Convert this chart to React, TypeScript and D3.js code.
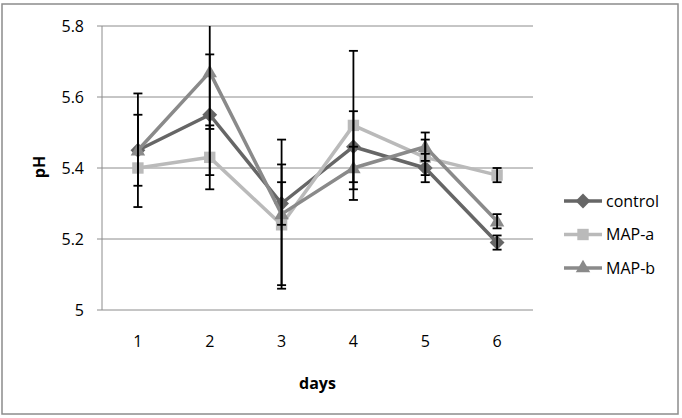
import React, { useEffect, useRef } from "react";
import * as d3 from "d3";

const days = ["1", "2", "3", "4", "5", "6"];
const yTicks = [5, 5.2, 5.4, 5.6, 5.8];

const controlValues = [5.45, 5.55, 5.30, 5.46, 5.40, 5.19];
const controlErr = [0.10, 0.17, 0.06, 0.10, 0.04, 0.02];
const mapAValues = [5.40, 5.43, 5.24, 5.52, 5.43, 5.38];
const mapAErr = [0.0, 0.09, 0.17, 0.21, 0.05, 0.02];
const mapBValues = [5.45, 5.67, 5.27, 5.40, 5.46, 5.25];
const mapBErr = [0.16, 0.16, 0.21, 0.06, 0.04, 0.02];

const seriesNames = ["control", "MAP-a", "MAP-b"];

export default function App() {
  const svgRef = useRef<SVGSVGElement | null>(null);

  useEffect(() => {
    document.body.style.margin = "0";
    if (!svgRef.current) return;
    const width = 682, height = 418;
    const left = 102, right = 533, top = 26, bottom = 310;
    const font = "'Open Sans', sans-serif";

    const series = [
      { name: seriesNames[0], values: controlValues, err: controlErr, color: "#666666", shape: "diamond" },
      { name: seriesNames[1], values: mapAValues, err: mapAErr, color: "#bababa", shape: "square" },
      { name: seriesNames[2], values: mapBValues, err: mapBErr, color: "#8a8a8a", shape: "triangle" },
    ];

    const x = d3.scaleBand().domain(days).range([left, right]);
    const y = d3.scaleLinear().domain([5, 5.8]).range([bottom, top]);
    const cx = (d: string) => (x(d) as number) + x.bandwidth() / 2;

    const svg = d3.select(svgRef.current);
    svg.selectAll("*").remove();

    svg.append("rect")
      .attr("x", 2).attr("y", 4).attr("width", width - 6).attr("height", height - 8)
      .attr("fill", "white").attr("stroke", "#8c8c8c").attr("stroke-width", 1.5);

    svg.append("defs").append("clipPath").attr("id", "plotclip")
      .append("rect").attr("x", left - 10).attr("y", top).attr("width", right - left + 20).attr("height", bottom - top + 20);

    // grid lines
    svg.append("g").selectAll("line")
      .data(yTicks)
      .enter()
      .append("line")
      .attr("x1", left - 5).attr("x2", right)
      .attr("y1", d => y(d)).attr("y2", d => y(d))
      .attr("stroke", "#8c8c8c").attr("stroke-width", 1);

    svg.append("line")
      .attr("x1", left).attr("x2", left).attr("y1", top).attr("y2", bottom)
      .attr("stroke", "#8c8c8c").attr("stroke-width", 1);

    svg.append("g").selectAll("text")
      .data(yTicks)
      .enter()
      .append("text")
      .attr("x", 84).attr("y", d => y(d)).attr("dy", "0.35em")
      .attr("text-anchor", "end").attr("font-family", font).attr("font-size", 16)
      .attr("fill", "#000")
      .text(d => d3.format("")(d));

    svg.append("g").selectAll("text")
      .data(days)
      .enter()
      .append("text")
      .attr("x", d => cx(d)).attr("y", 341).attr("dy", "0.35em")
      .attr("text-anchor", "middle").attr("font-family", font).attr("font-size", 16)
      .text(d => d);

    svg.append("text")
      .attr("x", (left + right) / 2).attr("y", 383).attr("dy", "0.35em")
      .attr("text-anchor", "middle").attr("font-family", font).attr("font-size", 16)
      .attr("font-weight", "bold").text("days");

    svg.append("text")
      .attr("transform", `translate(39,167) rotate(-90)`).attr("dy", "0.35em")
      .attr("text-anchor", "middle").attr("font-family", font).attr("font-size", 16)
      .attr("font-weight", "bold").text("pH");

    const symbolFor = (shape: string) => {
      if (shape === "diamond") return d3.symbol().type(d3.symbolDiamond2).size(140)();
      if (shape === "square") return d3.symbol().type(d3.symbolSquare2).size(165)();
      return d3.symbol().type(d3.symbolTriangle2).size(150)();
    };

    const line = d3.line<number>()
      .x((_, i) => cx(days[i]))
      .y(d => y(d));

    series.forEach(s => {
      svg.append("path")
        .attr("d", line(s.values))
        .attr("fill", "none").attr("stroke", s.color).attr("stroke-width", 3.5)
        .attr("stroke-linejoin", "round");
      svg.append("g").selectAll("path")
        .data(s.values)
        .enter()
        .append("path")
        .attr("d", symbolFor(s.shape))
        .attr("transform", (d, i) => `translate(${cx(days[i])},${y(d) + (s.shape === "triangle" ? 1 : 0)})`)
        .attr("fill", s.color);
    });

    // error bars
    const eb = svg.append("g").attr("clip-path", "url(#plotclip)");
    series.forEach(s => {
      s.values.forEach((v, i) => {
        const e = s.err[i];
        if (!e) return;
        const px = cx(days[i]);
        eb.append("line")
          .attr("x1", px).attr("x2", px).attr("y1", y(v + e)).attr("y2", y(v - e))
          .attr("stroke", "#000").attr("stroke-width", 1.8);
        [v + e, v - e].forEach(t => {
          eb.append("line")
            .attr("x1", px - 4.5).attr("x2", px + 4.5).attr("y1", y(t)).attr("y2", y(t))
            .attr("stroke", "#000").attr("stroke-width", 1.8);
        });
      });
    });

    // legend
    const legend = svg.append("g");
    series.forEach((s, i) => {
      const ly = 201 + i * 33.5;
      legend.append("line")
        .attr("x1", 564).attr("x2", 602).attr("y1", ly).attr("y2", ly)
        .attr("stroke", s.color).attr("stroke-width", 3.5);
      legend.append("path")
        .attr("d", symbolFor(s.shape))
        .attr("transform", `translate(583,${ly})`)
        .attr("fill", s.color);
      legend.append("text")
        .attr("x", 606).attr("y", ly).attr("dy", "0.35em")
        .attr("font-family", font).attr("font-size", 16)
        .text(s.name);
    });
  }, []);

  return <svg ref={svgRef} width={682} height={418} style={{ display: "block" }}></svg>;
}
